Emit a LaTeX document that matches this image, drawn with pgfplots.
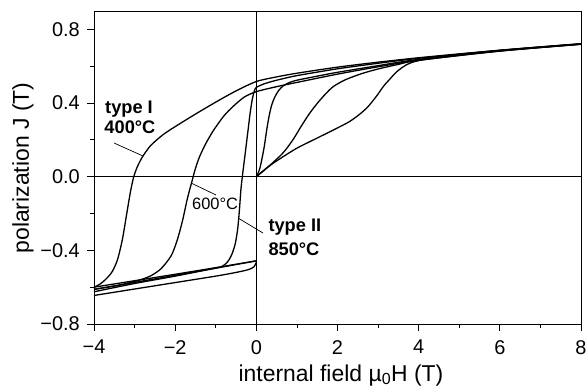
\documentclass[border=0pt]{standalone}
\usepackage{fontspec}
\setmainfont{Liberation Sans}
\usepackage{pgfplots}
\pgfplotsset{compat=1.18}
\begin{document}
\begin{tikzpicture}
\path[use as bounding box] (-94bp,-63bp) rectangle (493bp,324bp);
\begin{axis}[
  scale only axis, width=487bp, height=313bp,
  xmin=-4, xmax=8, ymin=-0.8, ymax=0.9,
  axis line style={line width=0.8bp},
  xtick={-4,-2,0,2,4,6,8},
  xticklabels={−4,−2,0,2,4,6,8},
  ytick={-0.8,-0.4,0,0.4,0.8},
  yticklabels={−0.8,−0.4,0.0,0.4,0.8},
  minor xtick={-3,-1,1,3,5,7},
  minor ytick={-0.6,-0.2,0.2,0.6},
  tick align=outside,
  xtick pos=bottom, ytick pos=left,
  major tick length=7bp, minor tick length=4bp,
  tick style={line width=0.8bp, black},
  ticklabel style={font=\fontsize{20}{24}\selectfont, inner sep=0pt},
  xticklabel style={anchor=north, yshift=-9bp},
  yticklabel style={anchor=east, xshift=-7bp},
  cycle list={{black, line width=1.3bp, no marks}},
]
% zero lines
\addplot[black, line width=0.7bp] coordinates {(-4,0) (8,0)};
\addplot[black, line width=0.7bp] coordinates {(0,-0.8) (0,0.9)};

% type I, 400 C : virgin
\addplot[black, line width=1.3bp, smooth, tension=0.5] coordinates {
(0,0) (0.3,0.055) (0.6,0.1) (1,0.155) (1.5,0.21) (2.0,0.265) (2.3,0.30) (2.55,0.34)
(2.75,0.38) (2.97,0.44) (3.13,0.49) (3.29,0.53) (3.46,0.57) (3.7,0.608) (3.95,0.628)
(4.5,0.652) (6,0.686) (8,0.722)};
% type I demag + return
\addplot[black, line width=1.3bp, smooth, tension=0.45] coordinates {
(8,0.722) (7,0.705) (6,0.687) (5,0.667) (4,0.646) (3,0.622) (2,0.595) (1,0.562)
(0.5,0.542) (0,0.517) (-0.5,0.466) (-1,0.405) (-1.5,0.34) (-2,0.272) (-2.3,0.228)
(-2.6,0.17) (-2.8,0.11) (-2.93,0.055) (-3.02,0.0) (-3.1,-0.08) (-3.2,-0.21)
(-3.3,-0.34) (-3.42,-0.45) (-3.55,-0.515) (-3.7,-0.555) (-3.85,-0.583) (-4,-0.60)};
\addplot[black, line width=1.3bp] coordinates {(-4,-0.60) (-3,-0.565) (-2,-0.53) (-1,-0.494) (0,-0.457)};

% 600 C : virgin
\addplot[black, line width=1.3bp, smooth, tension=0.5] coordinates {
(0,0) (0.3,0.055) (0.66,0.13) (0.9,0.2) (1.1,0.272) (1.3,0.34) (1.5,0.398)
(1.7,0.448) (1.9,0.49) (2.2,0.527) (2.6,0.56) (3.0,0.585) (3.5,0.61) (4,0.632)
(6,0.682) (8,0.72)};
% 600 demag + return
\addplot[black, line width=1.3bp, smooth, tension=0.45] coordinates {
(8,0.72) (6,0.683) (4,0.632) (3,0.597) (2,0.557) (1,0.512) (0.5,0.489) (0,0.462)
(-0.3,0.432) (-0.57,0.382) (-0.8,0.33) (-1.06,0.25) (-1.25,0.178) (-1.4,0.108)
(-1.5,0.045) (-1.58,-0.02) (-1.7,-0.12) (-1.82,-0.24) (-1.95,-0.345) (-2.1,-0.43)
(-2.35,-0.50) (-2.6,-0.538) (-2.9,-0.563) (-3.4,-0.59) (-4,-0.612)};
\addplot[black, line width=1.3bp] coordinates {(-4,-0.612) (-3,-0.574) (-2,-0.536) (-1,-0.497) (0,-0.457)};

% type II, 850 C : virgin
\addplot[black, line width=1.3bp, smooth, tension=0.5] coordinates {
(0,0) (0.08,0.04) (0.15,0.11) (0.2,0.17) (0.26,0.26) (0.32,0.335) (0.38,0.39)
(0.45,0.43) (0.55,0.468) (0.66,0.493) (0.8,0.51) (1.0,0.524) (1.5,0.546) (2,0.567)
(3,0.603) (4,0.637) (6,0.683) (8,0.719)};
% 850 demag
\addplot[black, line width=1.3bp, smooth, tension=0.4] coordinates {
(8,0.721) (6,0.686) (4,0.643) (3,0.616) (2,0.586) (1,0.549) (0.5,0.524) (0.2,0.505)
(0,0.485) (-0.05,0.465) (-0.1,0.42) (-0.15,0.35) (-0.2,0.26) (-0.25,0.17)
(-0.3,0.08) (-0.34,0.01) (-0.38,-0.07) (-0.42,-0.19) (-0.46,-0.285) (-0.52,-0.365)
(-0.6,-0.42) (-0.7,-0.46) (-0.85,-0.488) (-1.2,-0.505) (-2,-0.54) (-3,-0.58) (-4,-0.625)};
% 850 return
\addplot[black, line width=1.3bp, smooth, tension=0.4] coordinates {
(-4,-0.645) (-3,-0.61) (-2,-0.575) (-1,-0.54) (-0.5,-0.52) (-0.2,-0.505)
(-0.06,-0.49) (0,-0.465)};
\end{axis}
% axis labels
\node[anchor=base, inner sep=0pt, font=\fontsize{23}{27}\selectfont] at (247bp,-57bp)
  {internal field µ\textsubscript{0}H (T)};
\node[rotate=90, anchor=base, inner sep=0pt, font=\fontsize{23}{27}\selectfont] at (-65bp,156bp)
  {polarization J (T)};
% annotations
\node[anchor=base west, inner sep=0pt, font=\fontsize{18.3}{22}\selectfont\bfseries] at (11bp,210.5bp) {type I};
\node[anchor=base west, inner sep=0pt, font=\fontsize{18.3}{22}\selectfont\bfseries] at (10.3bp,190bp) {400°C};
\draw[line width=0.7bp] (20bp,181bp) -- (49bp,168bp);
\node[anchor=base west, inner sep=0pt, font=\fontsize{16.5}{20}\selectfont] at (98bp,114bp) {600°C};
\draw[line width=0.7bp] (97bp,141bp) -- (122bp,129bp);
\node[anchor=base west, inner sep=0pt, font=\fontsize{18.3}{22}\selectfont\bfseries] at (174.3bp,92.3bp) {type II};
\node[anchor=base west, inner sep=0pt, font=\fontsize{18.3}{22}\selectfont\bfseries] at (174.3bp,68bp) {850°C};
\draw[line width=0.7bp] (144bp,106bp) -- (169bp,91bp);
\end{tikzpicture}
\end{document}
